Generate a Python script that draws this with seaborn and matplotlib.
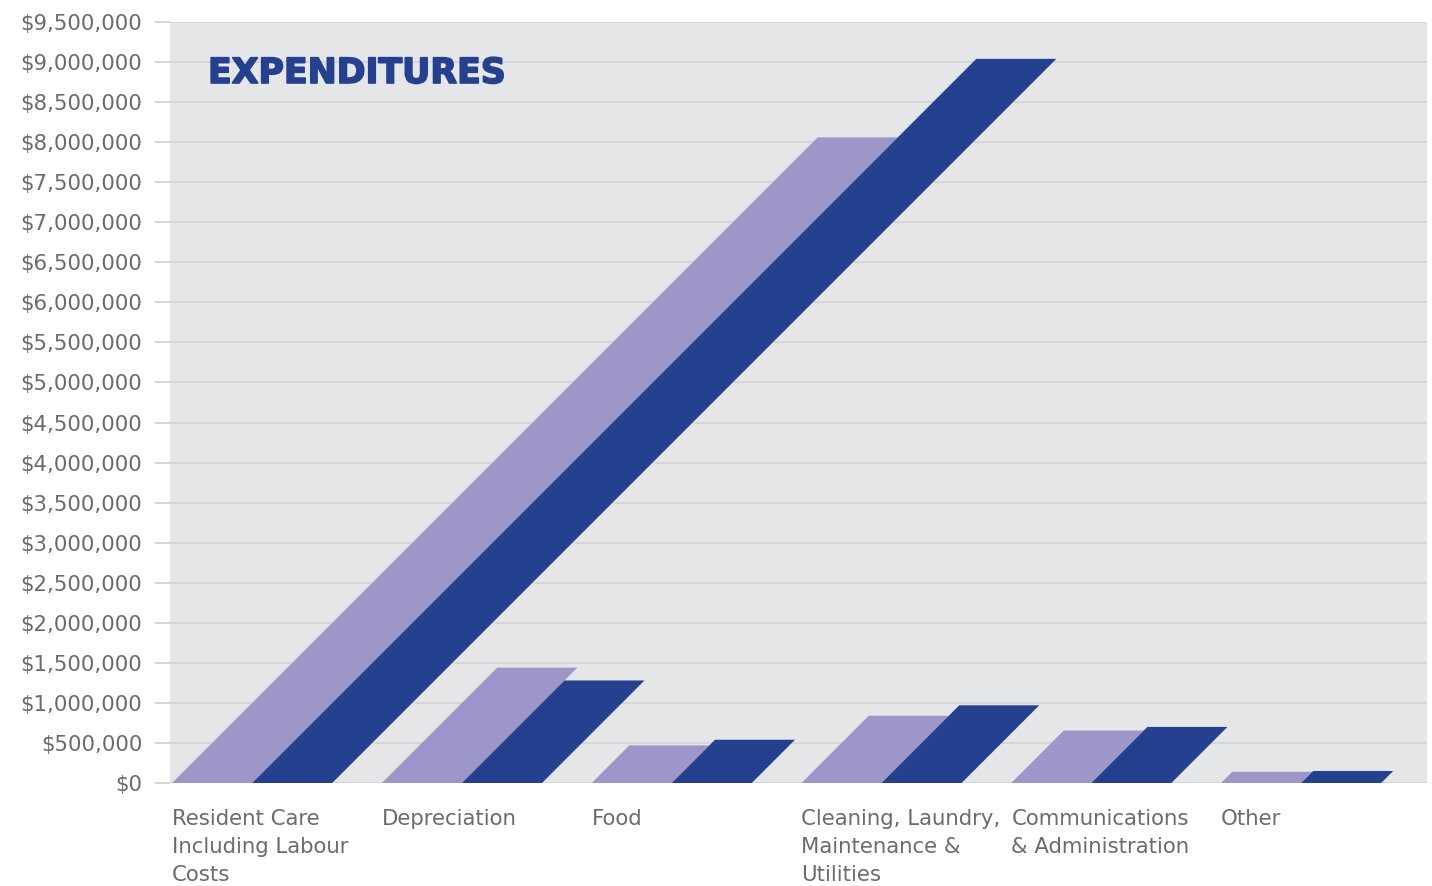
import matplotlib
matplotlib.use("Agg")
import matplotlib.pyplot as plt
from matplotlib.patches import Polygon
from matplotlib.ticker import FuncFormatter
import matplotlib.patheffects as pe
import seaborn as sns
import pandas as pd

# Data
categories = [
    "Resident Care\nIncluding Labour\nCosts",
    "Depreciation",
    "Food",
    "Cleaning, Laundry,\nMaintenance &\nUtilities",
    "Communications\n& Administration",
    "Other",
]
series_names = ["Previous year", "Current year"]
previous_year = [8060000, 1440000, 470000, 840000, 655000, 140000]
current_year = [9040000, 1280000, 540000, 970000, 700000, 150000]

light_purple = "#9d97c9"
dark_blue = "#24408e"
text_grey = "#6a6b6e"
grid_grey = "#d4d5d7"
panel_grey = "#e5e6e8"

df = pd.DataFrame({
    "category": categories * 2,
    "series": [series_names[0]] * len(categories) + [series_names[1]] * len(categories),
    "value": previous_year + current_year,
})

sns.set_theme(style="white")
plt.rcParams["font.family"] = ["DejaVu Sans"]

W, H = 1432, 886
fig = plt.figure(figsize=(W / 100, H / 100), dpi=100)
ax_left, ax_bottom, ax_w, ax_h = 170, 103, 1257, 761
ax = fig.add_axes([ax_left / W, ax_bottom / H, ax_w / W, ax_h / H])
ax.set_facecolor(panel_grey)

bar_width = 0.763
sns.barplot(data=df, x="category", y="value", hue="series",
            palette=[light_purple, dark_blue], width=bar_width,
            saturation=1, errorbar=None, legend=False, ax=ax)

ymax = 9500000
xmin = -bar_width / 2 - 0.01
xmax = 5.6
ax.set_xlim(xmin, xmax)
ax.set_ylim(0, ymax)

# turn each bar into a parallelogram leaning 45 degrees (in pixel space)
px_per_x = ax_w / (xmax - xmin)
px_per_y = ax_h / ymax
for p in list(ax.patches):
    x0, w, h = p.get_x(), p.get_width(), p.get_height()
    if h <= 0:
        continue
    shift = h * px_per_y / px_per_x
    poly = Polygon([(x0, 0), (x0 + w, 0), (x0 + w + shift, h), (x0 + shift, h)],
                   closed=True, facecolor=p.get_facecolor(), edgecolor="none",
                   zorder=2, clip_on=False)
    ax.add_patch(poly)
    p.set_visible(False)

# y axis
ax.set_yticks(range(0, ymax + 1, 500000))
ax.yaxis.set_major_formatter(FuncFormatter(lambda v, _: f"${int(v):,}"))
ax.grid(axis="y", color=grid_grey, linewidth=1.4)
ax.grid(axis="x", visible=False)
ax.set_axisbelow(True)
ax.tick_params(axis="y", length=11, width=1.4, color=grid_grey, pad=9,
               labelsize=15.3, labelcolor=text_grey, left=True)

# x axis: labels left-aligned at each group's left edge
ax.set_xticks([i - bar_width / 2 for i in range(len(categories))])
ax.set_xticklabels(categories, ha="left", va="top", linespacing=1.5)
ax.tick_params(axis="x", length=0, pad=19, labelsize=15.3, labelcolor=text_grey)
ax.set_xlabel("")
ax.set_ylabel("")

for s in ax.spines.values():
    s.set_visible(False)

fig.text(208 / W, 1 - 83 / H, "EXPENDITURES", fontsize=25, fontweight="bold",
         color=dark_blue, ha="left", va="baseline",
         path_effects=[pe.withStroke(linewidth=1.2, foreground=dark_blue)])

fig.savefig("out.png", dpi=100, facecolor="white")
